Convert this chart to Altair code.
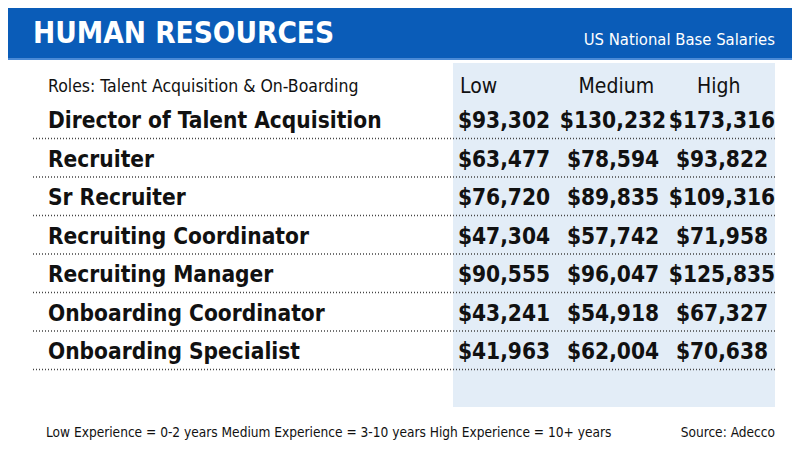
import altair as alt
import pandas as pd

# ---- data ----
roles = [
    "Director of Talent Acquisition",
    "Recruiter",
    "Sr Recruiter",
    "Recruiting Coordinator",
    "Recruiting Manager",
    "Onboarding Coordinator",
    "Onboarding Specialist",
]
low = [93302, 63477, 76720, 47304, 90555, 43241, 41963]
medium = [130232, 78594, 89835, 57742, 96047, 54918, 62004]
high = [173316, 93822, 109316, 71958, 125835, 67327, 70638]
levels = ["Low", "Medium", "High"]

title_text = "HUMAN RESOURCES"
subtitle_text = "US National Base Salaries"
roles_header = "Roles: Talent Acquisition & On-Boarding"
footnote_text = "Low Experience = 0-2 years Medium Experience = 3-10 years High Experience = 10+ years"
source_text = "Source: Adecco"

# ---- layout / style ----
W, H = 784, 434
FONT = "'DejaVu Sans Condensed', sans-serif"
BLUE = "#0a5cb8"
PANEL = "#e3edf7"
INK = "#111111"

values_df = pd.DataFrame(
    [{"role": r, "level": lv, "value": v}
     for lv, series in zip(levels, [low, medium, high])
     for r, v in zip(roles, series)]
)
roles_df = pd.DataFrame({"role": roles})
levels_df = pd.DataFrame({"level": levels})
one = pd.DataFrame({"k": [0]})

yscale = alt.Scale(type="point", domain=roles, range=[113, 344], padding=0)
xvals = alt.Scale(type="point", domain=levels, range=[496, 714], padding=0)
xhdr = alt.Scale(type="point", domain=levels, range=[452, 689], padding=0)

header_bar = alt.Chart(one).mark_rect(color=BLUE).encode(
    x=alt.value(0), x2=alt.value(W), y=alt.value(0), y2=alt.value(50))
header_line = alt.Chart(one).mark_rect(color="#4a8ad6").encode(
    x=alt.value(0), x2=alt.value(W), y=alt.value(50), y2=alt.value(52))
panel = alt.Chart(one).mark_rect(color=PANEL).encode(
    x=alt.value(445), x2=alt.value(767), y=alt.value(55), y2=alt.value(399))

title = alt.Chart(one).mark_text(
    text=title_text, font=FONT, fontSize=29.5, fontWeight="bold", color="white",
    align="left", baseline="alphabetic").encode(x=alt.value(25), y=alt.value(35))
subtitle = alt.Chart(one).mark_text(
    text=subtitle_text, font=FONT, fontSize=16.5, color="white",
    align="right", baseline="alphabetic").encode(x=alt.value(767), y=alt.value(37))

rules = alt.Chart(roles_df).mark_rule(
    color="#444444", strokeWidth=1.5, strokeDash=[1, 2], yOffset=17.5).encode(
    y=alt.Y("role:N", scale=yscale, axis=None),
    x=alt.value(25), x2=alt.value(767))

role_labels = alt.Chart(roles_df).mark_text(
    font=FONT, fontSize=22.5, fontWeight="bold", color=INK,
    align="left", baseline="middle").encode(
    y=alt.Y("role:N", scale=yscale, axis=None),
    x=alt.value(40), text="role:N")

roles_hdr = alt.Chart(one).mark_text(
    text=roles_header, font=FONT, fontSize=17.5, color=INK,
    align="left", baseline="middle").encode(x=alt.value(40), y=alt.value(78.5))

col_hdr = alt.Chart(levels_df).mark_text(
    font=FONT, fontSize=21, color=INK, align="left", baseline="middle").encode(
    x=alt.X("level:N", scale=xhdr, axis=None),
    y=alt.value(78.5), text="level:N")

vals = alt.Chart(values_df).mark_text(
    font=FONT, fontSize=22.5, fontWeight="bold", color=INK,
    align="center", baseline="middle").encode(
    x=alt.X("level:N", scale=xvals, axis=None),
    y=alt.Y("role:N", scale=yscale, axis=None),
    text=alt.Text("value:Q", format="$,.0f"))

footnote = alt.Chart(one).mark_text(
    text=footnote_text, font=FONT, fontSize=13.6, color=INK,
    align="left", baseline="middle").encode(x=alt.value(38), y=alt.value(425))
source = alt.Chart(one).mark_text(
    text=source_text, font=FONT, fontSize=13.6, color=INK,
    align="right", baseline="middle").encode(x=alt.value(767), y=alt.value(425))

chart = alt.layer(
    header_bar, header_line, panel, title, subtitle, rules, role_labels,
    roles_hdr, col_hdr, vals, footnote, source
).resolve_scale(x="independent").properties(
    width=W, height=H, padding=0, autosize=alt.AutoSizeParams(type="none")
).configure_view(stroke=None)

chart.save("out.html", embed_options={"renderer": "svg", "actions": False})
